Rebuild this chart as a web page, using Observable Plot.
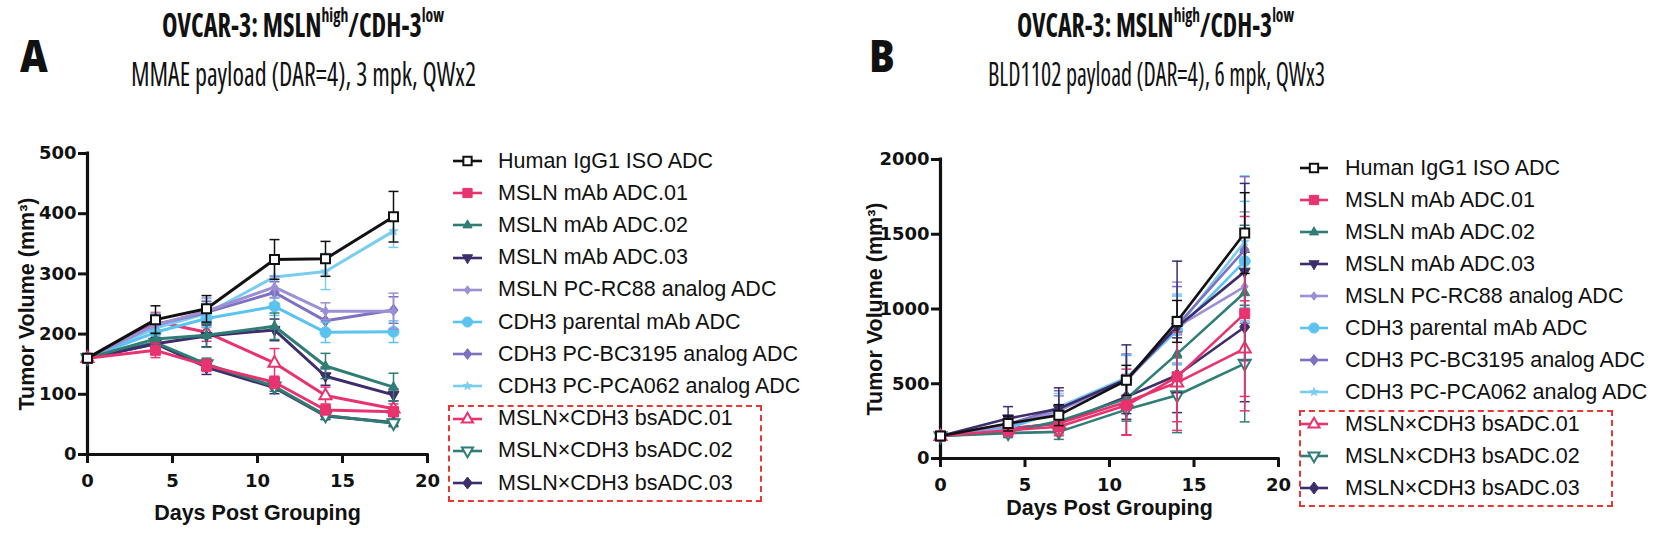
<!DOCTYPE html>
<html><head><meta charset="utf-8">
<script src="https://cdn.jsdelivr.net/npm/d3@7"></script>
<script src="https://cdn.jsdelivr.net/npm/@observablehq/plot@0.6"></script>
<style>
body{margin:0;background:#fff;}
#root{position:relative;width:1668px;height:545px;overflow:hidden;background:#fff;font-family:"Liberation Sans",Arial,sans-serif;color:#111;}
.ttl{font-family:"Open Sans","Noto Sans",sans-serif;font-weight:700;font-size:33px;line-height:1;white-space:nowrap;font-stretch:75%;transform-origin:0 0;}
.sub{font-family:"Open Sans","Noto Sans",sans-serif;font-weight:400;font-size:33px;line-height:1;white-space:nowrap;font-stretch:80%;transform-origin:0 0;}
.ttl sup{font-size:0.6em;position:relative;top:-0.75em;vertical-align:baseline;}
.pl{font-family:"Open Sans","Noto Sans",sans-serif;font-weight:800;font-size:45px;line-height:1;transform-origin:0 0;transform:scaleX(0.85);}
.leg{position:absolute;font-family:"Liberation Sans",Arial,sans-serif;font-size:21.5px;white-space:nowrap;}
.row{position:absolute;left:0;height:32px;display:flex;align-items:center;}
.box{position:absolute;border:2.5px dashed #e53935;box-sizing:border-box;}
</style></head><body><div id="root"></div>
<script>
// ---------------- data ----------------
const days = [0, 4, 7, 11, 14, 18];
const seriesNames = [
  "Human IgG1 ISO ADC",
  "MSLN mAb ADC.01",
  "MSLN mAb ADC.02",
  "MSLN mAb ADC.03",
  "MSLN PC-RC88 analog ADC",
  "CDH3 parental mAb ADC",
  "CDH3 PC-BC3195 analog ADC",
  "CDH3 PC-PCA062 analog ADC",
  "MSLN×CDH3 bsADC.01",
  "MSLN×CDH3 bsADC.02",
  "MSLN×CDH3 bsADC.03"
];
// Panel A: MMAE payload, mean tumor volume (mm3)
const meanA = [
  [160, 224, 242, 324, 325, 395],
  [160, 173, 148, 120, 74, 71],
  [160, 192, 198, 213, 147, 112],
  [160, 184, 197, 207, 130, 99],
  [160, 215, 238, 278, 238, 238],
  [160, 203, 226, 246, 203, 204],
  [160, 216, 236, 269, 222, 240],
  [160, 210, 234, 295, 304, 371],
  [160, 221, 203, 152, 98, 76],
  [160, 186, 150, 113, 65, 52],
  [160, 184, 145, 111, 64, 53]
];
const errA = [
  [4, 23, 22, 33, 29, 42],
  [4, 12, 10, 10, 8, 8],
  [4, 10, 20, 22, 21, 23],
  [4, 10, 18, 18, 15, 10],
  [4, 20, 22, 18, 14, 30],
  [4, 12, 15, 15, 17, 18],
  [4, 15, 18, 18, 16, 22],
  [4, 15, 22, 25, 30, 27],
  [4, 15, 15, 24, 14, 8],
  [4, 8, 10, 8, 6, 6],
  [4, 8, 12, 10, 6, 5]
];
// Panel B: BLD1102 payload, mean tumor volume (mm3)
const meanB = [
  [150, 234, 290, 523, 917, 1508],
  [150, 189, 212, 356, 546, 969],
  [150, 178, 250, 400, 700, 1110],
  [150, 267, 333, 530, 880, 1250],
  [150, 220, 320, 520, 880, 1150],
  [150, 200, 320, 530, 857, 1320],
  [150, 230, 333, 520, 890, 1395],
  [150, 210, 345, 540, 870, 1450],
  [150, 200, 234, 378, 508, 735],
  [150, 170, 178, 327, 423, 635],
  [150, 200, 234, 412, 557, 880]
];
const errB = [
  [12, 50, 70, 100, 140, 270],
  [12, 40, 60, 200, 300, 650],
  [12, 30, 70, 150, 250, 450],
  [12, 80, 140, 230, 440, 590],
  [12, 60, 100, 180, 300, 500],
  [12, 50, 100, 160, 230, 400],
  [12, 60, 120, 170, 260, 490],
  [12, 60, 90, 160, 230, 440],
  [12, 40, 70, 220, 320, 320],
  [12, 30, 50, 170, 250, 390],
  [12, 40, 60, 150, 250, 500]
];
const ticksX = [0, 5, 10, 15, 20];
const ticksYA = [0, 100, 200, 300, 400, 500];
const ticksYB = [0, 500, 1000, 1500, 2000];

// ---------------- styles ----------------
const colors = ["#111111", "#e8336e", "#2f7d75", "#3d2d6c", "#9c8fd4", "#5bc3ef", "#7f71c1", "#79cdf1", "#e8336e", "#2f7d75", "#3d2d6c"];
const sym = (f) => ({draw(ctx, size) { f(ctx, Math.sqrt(size / Math.PI)); }});
const S = {
  square: sym((c, r) => { c.moveTo(-r, -r); c.lineTo(r, -r); c.lineTo(r, r); c.lineTo(-r, r); c.closePath(); }),
  triUp: sym((c, r) => { c.moveTo(0, -1.25 * r); c.lineTo(1.1 * r, 0.7 * r); c.lineTo(-1.1 * r, 0.7 * r); c.closePath(); }),
  triDown: sym((c, r) => { c.moveTo(0, 1.25 * r); c.lineTo(1.1 * r, -0.7 * r); c.lineTo(-1.1 * r, -0.7 * r); c.closePath(); }),
  diamond: sym((c, r) => { c.moveTo(0, -1.3 * r); c.lineTo(r, 0); c.lineTo(0, 1.3 * r); c.lineTo(-r, 0); c.closePath(); }),
  circle: sym((c, r) => { c.moveTo(r, 0); c.arc(0, 0, r, 0, 2 * Math.PI); c.closePath(); }),
  star: sym((c, r) => { for (let k = 0; k < 10; k++) { const a = -Math.PI / 2 + k * Math.PI / 5, rr = k % 2 ? r * 0.45 : r * 1.2; k ? c.lineTo(rr * Math.cos(a), rr * Math.sin(a)) : c.moveTo(rr * Math.cos(a), rr * Math.sin(a)); } c.closePath(); }),
  cap: sym((c, r) => { c.moveTo(-r, 0); c.lineTo(r, 0); })
};
const markerStyle = [
  {symbol: S.square, r: 4.5, fill: "white", sw: 2},
  {symbol: S.square, r: 5, fill: null, sw: 1},
  {symbol: S.triUp, r: 4.5, fill: null, sw: 1},
  {symbol: S.triDown, r: 5, fill: null, sw: 1},
  {symbol: S.diamond, r: 3.5, fill: null, sw: 1},
  {symbol: S.circle, r: 5.5, fill: null, sw: 1},
  {symbol: S.diamond, r: 4.5, fill: null, sw: 1},
  {symbol: S.star, r: 4, fill: null, sw: 1},
  {symbol: S.triUp, r: 5.5, fill: "white", sw: 2},
  {symbol: S.triDown, r: 5.5, fill: "white", sw: 2},
  {symbol: S.diamond, r: 5, fill: null, sw: 1}
];

const TICKFONT = {fontSize: 18, fontFamily: "DejaVu Sans", fontWeight: "bold"};
const TITLEFONT = {fontSize: 21.5, fontFamily: "Liberation Sans", fontWeight: "bold"};

function panel(mean, err, cfg) {
  const marks = [];
  for (let i = seriesNames.length - 1; i >= 0; i--) {
    const rows = days.map((d, j) => ({day: d, v: mean[i][j], e: err[i][j]}));
    const c = colors[i], m = markerStyle[i];
    marks.push(Plot.ruleX(rows, {x: "day", y1: (d) => d.v - d.e, y2: (d) => d.v + d.e, stroke: c, strokeWidth: 1.5}));
    marks.push(Plot.dot(rows, {x: "day", y: (d) => d.v + d.e, symbol: S.cap, r: 5, stroke: c, strokeWidth: 1.5}));
    marks.push(Plot.dot(rows, {x: "day", y: (d) => d.v - d.e, symbol: S.cap, r: 5, stroke: c, strokeWidth: 1.5}));
    marks.push(Plot.line(rows, {x: "day", y: "v", stroke: c, strokeWidth: cfg.lw}));
    marks.push(Plot.dot(rows, {x: "day", y: "v", symbol: m.symbol, r: m.r, fill: m.fill || c, stroke: c, strokeWidth: m.sw}));
  }
  return Plot.plot({
    width: cfg.width, height: cfg.height,
    marginLeft: cfg.ml, marginRight: cfg.mr, marginTop: cfg.mt, marginBottom: cfg.mb,
    x: {domain: [0, 20]},
    y: {domain: cfg.ydomain},
    style: {background: "transparent", maxWidth: "none", overflow: "visible", color: "#111"},
    marks: [
      Plot.axisY(cfg.yticks, {tickSize: 9, tickPadding: 2, strokeWidth: 3, label: null, tickFormat: (d) => String(d), ...TICKFONT}),
      Plot.axisX(ticksX, {tickSize: 9, tickPadding: 11, strokeWidth: 3, label: null, tickFormat: (d) => String(d), ...TICKFONT}),
      Plot.ruleX([0], {strokeWidth: 3.2, strokeLinecap: "square"}),
      Plot.ruleY([0], {strokeWidth: 3.2, strokeLinecap: "square"}),
      Plot.text(["Tumor Volume (mm³)"], {frameAnchor: "left", rotate: -90, dx: cfg.ydx, textAnchor: "middle", lineAnchor: "middle", ...TITLEFONT}),
      Plot.text(["Days Post Grouping"], {frameAnchor: "bottom", dy: cfg.xdy, textAnchor: "middle", lineAnchor: "middle", ...TITLEFONT}),
      ...marks
    ]
  });
}

const root = document.getElementById("root");
function place(el, left, top) { el.style.position = "absolute"; el.style.left = left + "px"; el.style.top = top + "px"; root.appendChild(el); }

const svgA = panel(meanA, errA, {width: 440, height: 415, ml: 87, mr: 13, mt: 23, mb: 91, ydomain: [0, 500], yticks: ticksYA, lw: 3, ydx: -60, xdy: 59});
place(svgA, 0, 130);
const svgB = panel(meanB, errB, {width: 450, height: 415, ml: 100, mr: 12, mt: 29, mb: 87, ydomain: [0, 2000], yticks: ticksYB, lw: 2.6, ydx: -65, xdy: 50});
place(svgB, 840, 130);

// legends
function legend(left, top, step, lineW, textX) {
  const div = document.createElement("div");
  div.className = "leg";
  seriesNames.forEach((name, i) => {
    const row = document.createElement("div");
    row.className = "row";
    row.style.top = (i * step - 16) + "px";
    const m = markerStyle[i], c = colors[i];
    const p = d3.path(); m.symbol.draw(p, m.r * m.r * Math.PI * 0.85);
    const svg = d3.create("svg").attr("width", textX).attr("height", 32).style("overflow", "visible");
    const g = svg.append("g").attr("transform", "translate(0,16)");
    g.append("line").attr("x1", 0).attr("x2", lineW).attr("stroke", c).attr("stroke-width", 2.6);
    g.append("path").attr("d", p.toString()).attr("transform", `translate(${lineW / 2},0)`).attr("fill", m.fill || c).attr("stroke", c).attr("stroke-width", m.sw);
    row.appendChild(svg.node());
    const t = document.createElement("span"); t.textContent = name; row.appendChild(t);
    div.appendChild(row);
  });
  place(div, left, top);
}
legend(453, 161, 32.2, 29, 45);
legend(1300, 168, 32, 28, 45);

const boxA = document.createElement("div"); boxA.className = "box";
boxA.style.width = (762 - 448) + "px"; boxA.style.height = (502 - 405) + "px"; place(boxA, 448, 405);
const boxB = document.createElement("div"); boxB.className = "box";
boxB.style.width = (1613 - 1299) + "px"; boxB.style.height = (507 - 410) + "px"; place(boxB, 1299, 410);

// titles
function text(cls, html, center, top, targetW) {
  const d = document.createElement("div"); d.className = cls; d.innerHTML = html;
  place(d, 0, top);
  const w = d.getBoundingClientRect().width;
  const s = targetW / w;
  d.style.left = (center - targetW / 2) + "px";
  d.style.transform = `scaleX(${s})`;
}
const titleHTML = "OVCAR-3: MSLN<sup>high</sup>/CDH-3<sup>low</sup>";
text("ttl", titleHTML, 303, 8, 282);
text("sub", "MMAE payload (DAR=4), 3 mpk, QWx2", 303, 57, 345);
text("ttl", titleHTML, 1155, 8, 277);
text("sub", "BLD1102 payload (DAR=4), 6 mpk, QWx3", 1156, 57, 337);
const la = document.createElement("div"); la.className = "pl"; la.textContent = "A"; place(la, 20, 32);
const lb = document.createElement("div"); lb.className = "pl"; lb.textContent = "B"; place(lb, 869, 32);
</script></body></html>
